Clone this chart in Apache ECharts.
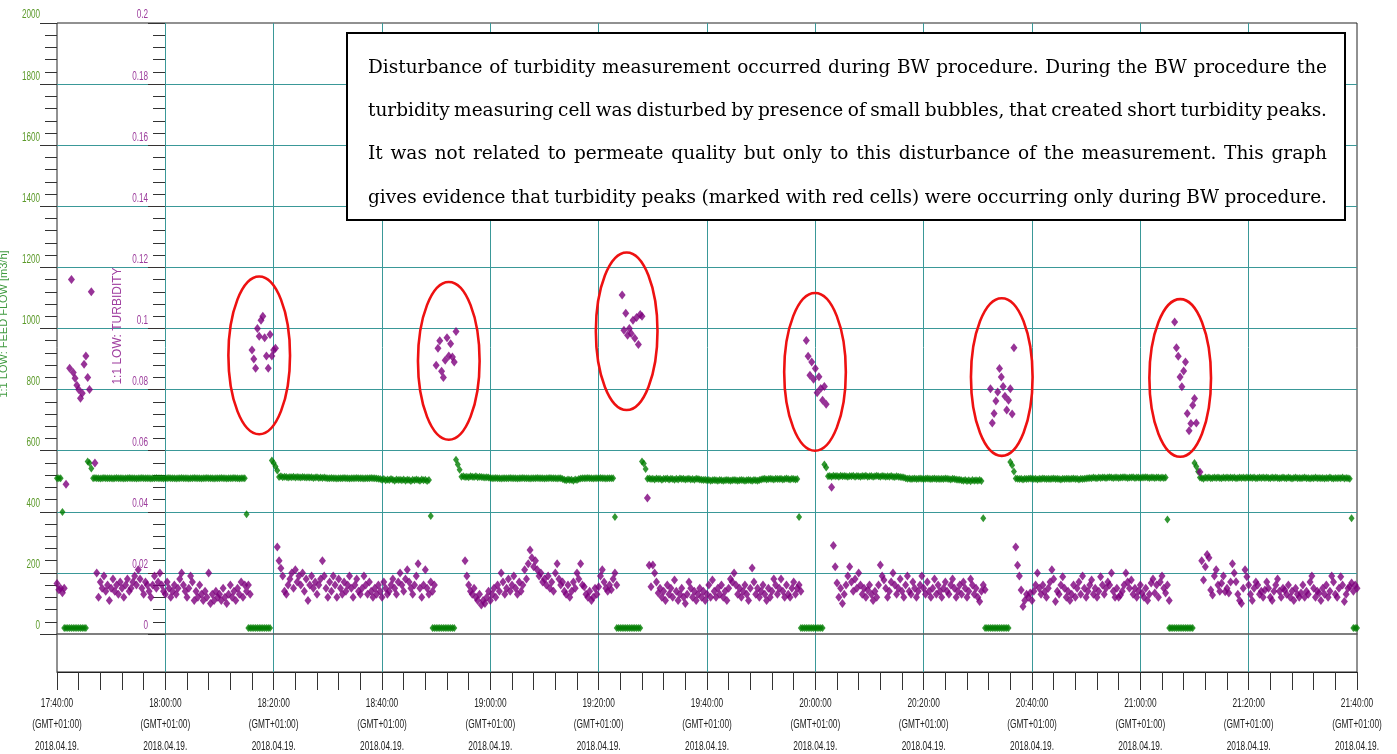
<!DOCTYPE html>
<html>
<head>
<meta charset="utf-8">
<title>Feed flow and turbidity, 2018.04.19.</title>
<script src="https://cdn.jsdelivr.net/npm/echarts@6/dist/echarts.min.js"></script>
<style>
  html, body { margin: 0; padding: 0; background: #ffffff; }
  #chart { width: 1397px; height: 754px; }
</style>
</head>
<body>
<div id="chart"></div>
<script>
// ---- data -------------------------------------------------------------
// one sample every 20 s, starting 17:40:00
const sampleStepSeconds = 20;

// x-axis tick labels (every 20 minutes from 17:40:00)
const xTickTimes = ['17:40:00', '18:00:00', '18:20:00', '18:40:00', '19:00:00', '19:20:00', '19:40:00',
                    '20:00:00', '20:20:00', '20:40:00', '21:00:00', '21:20:00', '21:40:00'];
const timeZoneLabel = '(GMT+01:00)';
const dateLabel = '2018.04.19.';

// y-axis tick labels
const flowTickValues = [0, 200, 400, 600, 800, 1000, 1200, 1400, 1600, 1800, 2000];
const turbidityTickLabels = ['0', '0.02', '0.04', '0.06', '0.08', '0.1', '0.12', '0.14', '0.16', '0.18', '0.2'];

// 1:1 LOW: FEED FLOW (left scale, 0 … 2000)
const feedFlow = [
  510,510,510,399,20,20,20,20,20,20,
  20,20,20,20,20,20,20,565,560,542,
  510,511,510,510,509,510,511,510,510,510,
  510,509,510,511,510,510,510,509,510,510,
  511,510,510,510,509,510,510,511,510,510,
  510,510,509,510,510,511,510,510,510,509,
  510,510,511,510,510,510,509,510,510,511,
  510,510,510,509,510,510,511,510,510,510,
  509,510,510,511,510,510,510,509,510,510,
  510,511,510,510,509,510,510,510,511,510,
  510,509,510,510,510,392,20,20,20,20,
  20,20,20,20,20,20,20,20,20,568,
  560,548,535,514,516,513,515,514,512,514,
  513,515,512,514,513,512,514,513,512,513,
  512,513,511,512,513,511,512,511,512,511,
  510,510,511,510,510,509,510,510,510,511,
  510,510,509,510,510,510,511,510,510,510,
  509,510,510,510,511,510,510,509,508,507,
  505,507,503,506,504,507,505,502,506,504,
  505,503,506,502,505,504,501,505,503,506,
  504,502,506,503,505,501,504,386,20,20,
  20,20,20,20,20,20,20,20,20,20,
  20,570,555,538,515,516,514,515,513,516,
  515,514,516,513,515,514,513,512,513,512,
  511,510,510,511,510,510,509,510,510,510,
  510,511,510,510,510,509,510,510,511,510,
  510,510,509,510,510,510,511,510,510,510,
  509,510,510,511,510,510,510,509,510,510,
  507,505,503,506,504,505,502,506,504,507,
  509,510,510,510,511,510,510,509,510,510,
  510,511,510,510,509,510,510,510,510,383,
  20,20,20,20,20,20,20,20,20,20,
  20,20,20,20,565,558,540,508,509,507,
  508,506,509,507,508,505,508,507,509,506,
  508,507,505,508,506,509,507,508,506,507,
  508,506,507,505,508,507,506,505,504,505,
  503,504,502,503,504,503,502,504,503,502,
  503,504,503,502,503,504,503,502,503,504,
  503,502,503,504,503,502,504,503,502,504,
  506,507,508,506,507,508,507,506,508,507,
  507,508,506,507,509,507,506,508,507,506,
  507,383,20,20,20,20,20,20,20,20,
  20,20,20,20,20,555,545,516,517,515,
  518,516,517,515,518,516,517,516,515,517,
  516,518,515,517,516,515,517,516,518,515,
  516,517,515,516,518,516,515,517,516,515,
  516,515,517,515,514,516,515,514,513,512,
  510,508,509,507,508,509,507,508,509,508,
  507,508,509,508,507,508,509,507,508,507,
  508,507,509,508,507,506,508,507,506,505,
  505,503,502,504,501,503,500,504,502,503,
  502,504,501,379,20,20,20,20,20,20,
  20,20,20,20,20,20,20,20,563,552,
  532,509,508,507,508,506,508,507,508,509,
  508,507,508,506,508,507,509,508,507,508,
  507,508,509,507,508,507,506,508,507,508,
  508,507,508,509,507,508,506,508,507,508,
  509,510,511,510,512,511,510,512,511,512,
  512,511,512,513,512,511,512,512,511,512,
  512,513,512,511,512,512,513,511,512,512,
  511,512,512,513,512,511,512,512,511,512,
  512,511,512,511,512,375,20,20,20,20,
  20,20,20,20,20,20,20,20,20,20,
  560,548,532,512,511,508,512,511,512,510,
  511,512,511,512,511,510,512,511,512,511,
  512,511,512,510,511,512,511,512,511,512,
  511,512,511,512,510,511,512,511,512,511,
  512,511,510,512,511,512,511,510,511,512,
  511,510,512,511,509,511,512,510,511,510,
  511,512,510,511,509,511,510,512,510,511,
  510,511,509,511,510,512,510,509,511,510,
  511,510,512,509,511,510,508,379,20,20,
  20
];

// 1:1 LOW: TURBIDITY (inner scale, 0 … 0.2); null = no reading
const turbidity = [
  0.0165,0.0145,0.015,0.0135,0.015,0.049,null,0.087,0.116,0.0856,
  0.0837,0.0814,0.080,0.0772,0.0788,0.0883,0.091,0.084,0.080,0.112,
  null,0.056,0.020,0.012,0.017,0.015,0.019,0.014,0.016,0.011,
  0.015,0.018,0.014,0.016,0.013,0.017,0.015,0.012,0.016,0.018,
  0.014,0.015,0.017,0.019,0.016,0.021,0.018,0.015,0.013,0.017,
  0.016,0.014,0.012,0.016,0.019,0.015,0.017,0.020,0.016,0.014,
  0.013,0.017,0.015,0.012,0.014,0.016,0.013,0.015,0.018,0.020,
  0.016,0.014,0.012,0.015,0.019,0.017,0.011,0.014,0.012,0.016,
  0.013,0.011,0.014,0.012,0.020,0.010,0.013,0.011,0.014,0.012,
  0.013,0.011,0.015,0.012,0.010,0.013,0.016,0.012,0.014,0.011,
  0.015,0.013,0.017,0.012,0.016,0.014,0.016,0.013,0.093,0.090,
  0.087,0.100,0.0975,0.1027,0.104,0.097,0.091,0.087,0.098,0.091,
  0.093,0.0935,0.0285,0.024,0.0215,0.019,0.014,0.013,0.016,0.018,
  0.020,0.015,0.021,0.017,0.019,0.016,0.020,0.014,0.018,0.011,
  0.016,0.019,0.015,0.017,0.013,0.016,0.018,0.024,0.019,0.015,
  0.012,0.017,0.014,0.019,0.016,0.012,0.018,0.015,0.013,0.017,
  0.014,0.016,0.019,0.015,0.012,0.016,0.018,0.014,0.013,0.015,
  0.019,0.016,0.013,0.017,0.014,0.012,0.015,0.013,0.016,0.014,
  0.012,0.017,0.015,0.013,0.014,0.016,0.018,0.015,0.013,0.017,
  0.020,0.016,0.014,0.018,0.021,0.017,0.015,0.013,0.016,0.019,
  0.023,0.015,0.012,0.016,0.021,0.015,0.013,0.017,0.014,0.016,
  0.088,0.0935,0.096,0.086,0.084,0.0896,0.097,0.091,0.095,0.0907,
  0.089,0.099,null,null,null,null,0.024,0.019,0.016,0.014,
  0.013,0.015,0.012,0.011,0.013,0.0095,0.011,0.010,0.012,0.014,
  0.011,0.013,0.015,0.012,0.016,0.014,0.020,0.017,0.013,0.015,
  0.018,0.014,0.016,0.019,0.015,0.013,0.017,0.014,0.016,0.021,
  0.018,0.023,0.0275,0.025,0.022,0.024,0.021,0.019,0.020,0.017,
  0.018,0.016,0.019,0.015,0.017,0.014,0.020,0.023,0.018,0.016,
  0.017,0.014,0.013,0.016,0.012,0.014,0.017,0.015,0.020,0.018,
  0.023,0.016,0.0155,0.013,0.012,0.014,0.011,0.012,0.015,0.013,
  0.0155,0.019,0.021,0.017,0.015,0.014,0.016,0.0145,0.018,0.020,
  0.016,null,null,0.111,0.0994,0.105,0.0978,0.100,0.0984,0.1027,
  0.0968,0.1036,0.0948,0.1046,0.104,null,null,0.0445,0.0225,0.0155,
  0.0226,0.020,0.017,0.0134,0.015,0.012,0.014,0.011,0.016,0.013,
  0.015,0.012,0.0177,0.014,0.011,0.013,0.015,0.012,0.010,0.013,
  0.017,0.015,0.012,0.014,0.011,0.013,0.015,0.012,0.014,0.011,
  0.013,0.016,0.012,0.0177,0.014,0.012,0.015,0.013,0.016,0.012,
  0.014,0.011,0.015,0.018,0.017,0.020,0.016,0.013,0.015,0.012,
  0.014,0.016,0.013,0.011,0.015,0.0216,0.017,0.013,0.015,0.012,
  0.014,0.016,0.013,0.011,0.015,0.012,0.014,0.018,0.016,0.013,
  0.015,0.018,0.014,0.012,0.016,0.013,0.012,0.015,0.017,0.013,
  0.015,0.016,0.014,null,null,0.0961,0.0909,0.0847,0.089,0.0834,
  0.0869,0.079,0.0842,0.0804,0.0765,0.081,0.0752,null,null,0.048,
  0.029,0.022,0.0167,0.012,0.015,0.010,0.013,0.016,0.019,0.022,
  0.017,0.014,0.018,0.015,0.020,0.016,0.013,0.015,0.012,0.0144,
  0.016,0.013,0.011,0.014,0.012,0.016,0.0226,0.019,0.0177,0.015,
  0.012,0.014,0.017,0.020,0.016,0.013,0.015,0.018,0.014,0.012,
  0.016,0.019,0.014,0.013,0.017,0.015,0.012,0.014,0.016,0.019,
  0.015,0.013,0.017,0.014,0.012,0.015,0.018,0.013,0.016,0.014,
  0.012,0.015,0.017,0.014,0.013,0.016,0.018,0.015,0.012,0.014,
  0.016,0.013,0.017,0.015,0.012,0.014,0.018,0.016,0.013,0.015,
  0.012,0.0106,0.014,0.016,0.0145,null,null,0.0803,0.0691,0.0722,
  0.0763,0.0792,0.0869,0.0841,0.081,0.0778,0.0733,0.0765,0.0803,0.072,
  0.0937,0.0285,0.0225,0.019,0.0144,0.009,0.011,0.013,0.012,0.0134,
  0.011,0.014,0.016,0.020,0.015,0.013,0.016,0.0138,0.012,0.015,
  0.017,0.021,0.018,0.0106,0.014,0.013,0.016,0.0187,0.015,0.012,
  0.014,0.011,0.013,0.016,0.012,0.015,0.017,0.013,0.019,0.015,
  0.012,0.014,0.016,0.0177,0.013,0.015,0.012,0.014,0.0187,0.016,
  0.013,0.015,0.017,0.016,0.020,0.014,0.012,0.015,0.012,0.0128,
  0.014,0.016,0.020,0.017,0.015,0.0177,0.013,0.015,0.012,0.014,
  0.016,0.0134,0.012,0.015,0.011,0.013,0.0167,0.018,0.0134,0.016,
  0.012,0.017,0.019,0.015,0.0134,0.016,0.011,null,null,0.1021,
  0.0937,0.0909,0.0841,0.0809,0.0861,0.089,0.0722,0.0665,0.0689,0.0749,
  0.0771,0.0691,null,0.053,0.024,0.0177,0.022,0.026,0.025,0.0144,
  0.0128,0.019,0.021,0.016,0.014,0.0166,0.019,0.0138,0.015,0.0134,
  0.017,0.023,0.020,0.0171,0.013,0.011,0.010,0.015,0.021,0.0187,
  0.016,0.013,0.011,0.015,0.017,0.016,0.013,0.014,0.012,0.0144,
  0.017,0.015,0.012,0.011,0.014,0.016,0.018,0.014,0.012,0.015,
  0.0144,0.013,0.016,0.012,0.014,0.011,0.015,0.013,0.012,0.0134,
  0.016,0.012,0.014,0.013,0.017,0.019,0.015,0.012,0.014,0.0134,
  0.011,0.015,0.013,0.016,0.012,0.014,0.019,0.017,0.013,0.012,
  0.015,0.0187,0.016,0.0106,0.013,0.015,0.0155,0.0167,0.014,0.016,
  0.015
];

// turbidity peaks during backwash, circled in red
// centre: minutes after 17:40:00 and turbidity value
const peakMinutes = [37.33, 72.33, 105.17, 139.94, 174.42, 207.36];
const peakTurbidity = [0.0912, 0.0894, 0.0991, 0.0858, 0.0841, 0.0838];

// explanatory note
const noteLines = [
  'Disturbance of turbidity measurement occurred during BW procedure. During the BW procedure the',
  'turbidity measuring cell was disturbed by presence of small bubbles, that created short turbidity peaks.',
  'It was not related to permeate quality but only to this disturbance of the measurement. This graph',
  'gives evidence that turbidity peaks (marked with red cells) were occurring only during BW procedure.'
];

// ---- styling ------------------------------------------------------------
const GRID_TEAL = '#3a9898';
const FLOW_GREEN = '#007d00';
const TURB_PURPLE = '#7d007d';
const LABEL_FONT_FAMILY = '"Liberation Sans", Arial, sans-serif';
const PEAK_HALF_MINUTES = 5.69;     // half-width of the red outline, minutes
const PEAK_HALF_TURBIDITY = 0.0258; // half-height of the red outline, turbidity units

const minutesOf = i => i * sampleStepSeconds / 60;
const flowData = feedFlow.map((v, i) => [minutesOf(i), v]);
const turbData = turbidity
  .map((v, i) => [minutesOf(i), v])
  .filter(d => d[1] !== null);
const peakData = peakMinutes.map((m, k) => [m, peakTurbidity[k]]);

const chart = echarts.init(document.getElementById('chart'), null, { renderer: 'canvas' });

chart.setOption({
  animation: false,
  backgroundColor: '#ffffff',
  grid: [
    // frame: reaches below the zero line down to the time axis
    { left: 57, right: 40, top: 23, bottom: 82, show: true, borderColor: '#222222', borderWidth: 1, backgroundColor: 'transparent' },
    // value area: 0 … 2000 / 0 … 0.2
    { left: 57, right: 40, top: 23, bottom: 120 }
  ],
  xAxis: [
    {
      gridIndex: 0, type: 'value', min: 0, max: 240, interval: 20,
      axisLine: { show: true, onZero: false, lineStyle: { color: '#222222', width: 1 } },
      axisTick: { show: true, length: 18, lineStyle: { color: '#333333' } },
      minorTick: { show: true, splitNumber: 5, length: 18, lineStyle: { color: '#333333' } },
      splitLine: { show: true, showMinLine: false, showMaxLine: false, lineStyle: { color: GRID_TEAL, width: 1 } },
      minorSplitLine: { show: false },
      axisLabel: { show: false }
    },
    {
      // zero line of the value area
      gridIndex: 1, type: 'value', min: 0, max: 240, position: 'bottom',
      axisLine: { show: true, onZero: false, lineStyle: { color: '#555555', width: 1.5 } },
      axisTick: { show: false }, axisLabel: { show: false }, splitLine: { show: false }
    }
  ],
  yAxis: [
    { gridIndex: 0, type: 'value', min: 0, max: 1, show: false },
    {
      gridIndex: 1, type: 'value', min: 0, max: 2000, interval: 200, position: 'left',
      axisLine: { show: false, onZero: false },
      axisTick: { show: true, length: 17, lineStyle: { color: '#333333' } },
      minorTick: { show: true, splitNumber: 5, length: 12, lineStyle: { color: '#333333' } },
      splitLine: { show: true, showMinLine: false, showMaxLine: false, lineStyle: { color: GRID_TEAL, width: 1 } },
      axisLabel: { show: false }
    },
    {
      gridIndex: 1, type: 'value', min: 0, max: 0.2, interval: 0.02, position: 'left', offset: -108,
      axisLine: { show: false, onZero: false },
      axisTick: { show: true, length: 17, lineStyle: { color: '#333333' } },
      minorTick: { show: true, splitNumber: 5, length: 12, lineStyle: { color: '#333333' } },
      splitLine: { show: false },
      axisLabel: { show: false }
    }
  ],
  series: [
    {
      name: '1:1 LOW: FEED FLOW', type: 'scatter', xAxisIndex: 1, yAxisIndex: 1,
      data: flowData, symbol: 'diamond', symbolSize: [6, 8],
      itemStyle: { color: FLOW_GREEN }, silent: true, z: 3
    },
    {
      name: '1:1 LOW: TURBIDITY', type: 'scatter', xAxisIndex: 1, yAxisIndex: 2,
      data: turbData, symbol: 'diamond', symbolSize: [7, 9],
      itemStyle: { color: TURB_PURPLE }, silent: true, z: 4
    },
    {
      name: 'BW peaks', type: 'custom', xAxisIndex: 1, yAxisIndex: 2,
      data: peakData, clip: false, silent: true, z: 5,
      encode: { x: 0, y: 1 },
      renderItem: (params, api) => {
        const c = api.coord([api.value(0), api.value(1)]);
        const e = api.coord([api.value(0) + PEAK_HALF_MINUTES, api.value(1) + PEAK_HALF_TURBIDITY]);
        return {
          type: 'ellipse',
          shape: { cx: c[0], cy: c[1], rx: Math.abs(e[0] - c[0]), ry: Math.abs(e[1] - c[1]) },
          style: { fill: 'none', stroke: '#ee1111', lineWidth: 2.6 }
        };
      }
    }
  ]
});

// ---- tick labels, set in a condensed face at the axis tick positions ------
const graphics = [];

// time axis: three lines under each major tick
const axisY = chart.convertToPixel({ yAxisIndex: 0 }, 0);
xTickTimes.forEach((t, k) => {
  const px = chart.convertToPixel({ xAxisIndex: 0 }, k * 20);
  [t, timeZoneLabel, dateLabel].forEach((line, r) => {
    graphics.push({
      type: 'text', x: px, y: axisY + 31 + r * 21.5, scaleX: 0.64, z: 20,
      style: { text: line, font: '13px ' + LABEL_FONT_FAMILY, fill: '#222222', align: 'center', verticalAlign: 'middle' }
    });
  });
});

// feed-flow scale (green) and turbidity scale (purple), just above their ticks
flowTickValues.forEach(v => {
  const py = chart.convertToPixel({ yAxisIndex: 1 }, v);
  graphics.push({
    type: 'text', x: 40, y: py - 1.5, scaleX: 0.65, z: 20,
    style: { text: String(v), font: '12.5px ' + LABEL_FONT_FAMILY, fill: '#5c9a2a', align: 'right', verticalAlign: 'bottom' }
  });
});
turbidityTickLabels.forEach(label => {
  const py = chart.convertToPixel({ yAxisIndex: 2 }, Number(label));
  graphics.push({
    type: 'text', x: 148, y: py - 1.5, scaleX: 0.65, z: 20,
    style: { text: label, font: '12.5px ' + LABEL_FONT_FAMILY, fill: '#9c3c9c', align: 'right', verticalAlign: 'bottom' }
  });
});

// axis names
graphics.push({
  type: 'text', x: 4, y: 324, rotation: Math.PI / 2, z: 20,
  style: { text: '1:1 LOW: FEED FLOW [m3/h]', font: '11px ' + LABEL_FONT_FAMILY, fill: '#3f9a3f', align: 'center', verticalAlign: 'middle' }
});
graphics.push({
  type: 'text', x: 118, y: 326, rotation: Math.PI / 2, z: 20,
  style: { text: '1:1 LOW: TURBIDITY', font: '12px ' + LABEL_FONT_FAMILY, fill: '#a040a0', align: 'center', verticalAlign: 'middle' }
});

// ---- note box: each line justified between the box margins ----------------
const NOTE_FONT = '18.5px "DejaVu Serif", "Liberation Serif", serif';
const measureCtx = document.createElement('canvas').getContext('2d');
measureCtx.font = NOTE_FONT;
const NOTE_LEFT = 368, NOTE_RIGHT = 1327, NOTE_TOP = 68, NOTE_STEP = 43.3;
graphics.push({
  type: 'rect', z: 100,
  shape: { x: 347, y: 33, width: 998, height: 187 },
  style: { fill: '#ffffff', stroke: '#000000', lineWidth: 2 }
});
noteLines.forEach((line, li) => {
  const words = line.split(' ');
  const widths = words.map(w => measureCtx.measureText(w).width);
  const used = widths.reduce((a, b) => a + b, 0);
  const gap = (NOTE_RIGHT - NOTE_LEFT - used) / (words.length - 1);
  let x = NOTE_LEFT;
  words.forEach((w, k) => {
    graphics.push({
      type: 'text', x: x, y: NOTE_TOP + li * NOTE_STEP, z: 101,
      style: { text: w, font: NOTE_FONT, fill: '#000000', align: 'left', verticalAlign: 'middle' }
    });
    x += widths[k] + gap;
  });
});

chart.setOption({ graphic: graphics });
</script>
</body>
</html>
